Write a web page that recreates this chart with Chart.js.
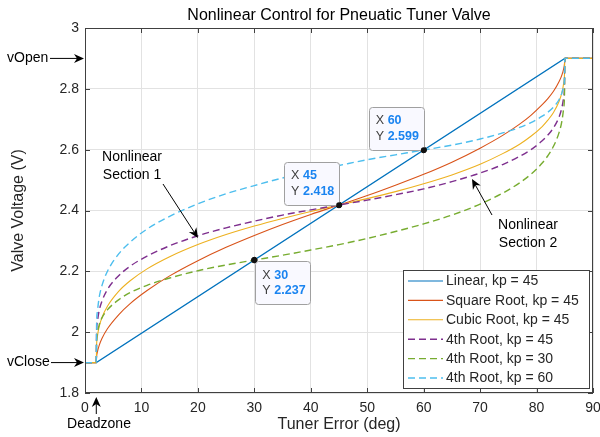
<!DOCTYPE html>
<html><head><meta charset="utf-8">
<script src="https://cdn.jsdelivr.net/npm/chart.js@4.4.1/dist/chart.umd.min.js"></script>
<style>html,body{margin:0;padding:0;background:#fff}canvas{display:block}</style>
</head><body>
<canvas id="c" width="600" height="437"></canvas>
<script>
// ---- data ----
const errorDeg = [0, 2, 2.05, 2.2, 2.5, 3, 4, 6, 8, 11, 15, 20, 25, 30, 35, 40, 45, 50, 55, 60, 65, 70, 74, 77, 79, 81, 82, 83, 84, 84.5, 84.8, 84.95, 85, 90];
const linearX = [0, 2, 85, 90];
const linearV = [1.9, 1.9, 2.9, 2.9];
const sqrtV45 = [1.9, 1.9, 1.918, 1.935, 1.956, 1.979, 2.012, 2.058, 2.094, 2.137, 2.185, 2.235, 2.279, 2.318, 2.354, 2.387, 2.418, 2.449, 2.483, 2.519, 2.559, 2.605, 2.647, 2.684, 2.713, 2.748, 2.768, 2.792, 2.824, 2.846, 2.866, 2.883, 2.9, 2.9];
const cubeV45 = [1.9, 1.9, 1.954, 1.986, 2.017, 2.048, 2.086, 2.135, 2.169, 2.208, 2.248, 2.288, 2.321, 2.349, 2.374, 2.397, 2.418, 2.439, 2.462, 2.488, 2.517, 2.552, 2.587, 2.618, 2.644, 2.676, 2.697, 2.722, 2.759, 2.788, 2.818, 2.848, 2.9, 2.9];
const fourthV45 = [1.9, 1.9, 1.996, 2.035, 2.070, 2.102, 2.141, 2.186, 2.217, 2.250, 2.284, 2.317, 2.343, 2.365, 2.385, 2.402, 2.418, 2.434, 2.452, 2.471, 2.495, 2.523, 2.551, 2.578, 2.600, 2.629, 2.648, 2.672, 2.708, 2.739, 2.772, 2.809, 2.9, 2.9];
const fourthV30 = [1.9, 1.9, 1.969, 1.998, 2.023, 2.047, 2.074, 2.107, 2.130, 2.154, 2.178, 2.202, 2.221, 2.237, 2.253, 2.270, 2.288, 2.308, 2.331, 2.356, 2.385, 2.421, 2.457, 2.491, 2.519, 2.556, 2.580, 2.611, 2.657, 2.695, 2.737, 2.785, 2.9, 2.9];
const fourthV60 = [1.9, 1.9, 2.020, 2.069, 2.113, 2.153, 2.201, 2.258, 2.296, 2.339, 2.381, 2.422, 2.455, 2.482, 2.507, 2.529, 2.548, 2.567, 2.583, 2.599, 2.615, 2.635, 2.655, 2.673, 2.689, 2.710, 2.723, 2.740, 2.765, 2.787, 2.810, 2.836, 2.9, 2.9];
const seriesLabels = ['Linear, kp = 45', 'Square Root, kp = 45', 'Cubic Root, kp = 45', '4th Root, kp = 45', '4th Root, kp = 30', '4th Root, kp = 60'];
const tipX = [30, 45, 60];
const tipY = [2.237, 2.418, 2.599];
const xTicks = [0, 10, 20, 30, 40, 50, 60, 70, 80, 90];
const yTicks = [1.8, 2, 2.2, 2.4, 2.6, 2.8, 3];
const titleText = 'Nonlinear Control for Pneuatic Tuner Valve';
const xTitle = 'Tuner Error (deg)';
const yTitle = 'Valve Voltage (V)';

// ---- styles ----
const FONT = "'Liberation Sans', Arial, Helvetica, sans-serif";
const colors = ['#0072BD', '#D95319', '#EDB120', '#7E2F8E', '#77AC30', '#4DBEEE'];
const dashes = [[], [], [], [7, 4], [7, 4], [7, 4]];
const widths = [1.1, 1.1, 1.1, 1.4, 1.4, 1.4];
const TXT = '#262626';
const AXC = '#404040';

const datasets = [];
datasets.push({ data: linearX.map((x, i) => ({ x, y: linearV[i] })) });
[sqrtV45, cubeV45, fourthV45, fourthV30, fourthV60].forEach(vals => {
  datasets.push({ data: errorDeg.map((x, i) => ({ x, y: vals[i] })) });
});
datasets.forEach((d, i) => Object.assign(d, {
  label: seriesLabels[i], borderColor: colors[i], borderWidth: widths[i], borderDash: dashes[i],
  pointRadius: 0, fill: false, order: 10 - i,
  cubicInterpolationMode: i === 0 ? 'default' : 'monotone', tension: 0
}));
datasets.push({
  label: 'tips', data: tipX.map((x, i) => ({ x, y: tipY[i] })), showLine: false,
  pointRadius: 2.8, pointBackgroundColor: '#111', pointBorderColor: '#111', order: 0
});

function arrow(ctx, x1, y1, x2, y2) {
  const a = Math.atan2(y2 - y1, x2 - x1), c = Math.cos(a), s = Math.sin(a);
  const L = 10, W = 4.5, N = 3;
  ctx.save();
  ctx.strokeStyle = '#000'; ctx.fillStyle = '#000'; ctx.lineWidth = 1;
  ctx.beginPath(); ctx.moveTo(x1, y1); ctx.lineTo(x2 - c * (L - N), y2 - s * (L - N)); ctx.stroke();
  ctx.beginPath();
  ctx.moveTo(x2, y2);
  ctx.lineTo(x2 - c * L - s * W, y2 - s * L + c * W);
  ctx.lineTo(x2 - c * (L - N), y2 - s * (L - N));
  ctx.lineTo(x2 - c * L + s * W, y2 - s * L - c * W);
  ctx.closePath(); ctx.fill();
  ctx.restore();
}

function roundRect(ctx, x, y, w, h, r) {
  ctx.beginPath();
  ctx.moveTo(x + r, y); ctx.lineTo(x + w - r, y); ctx.arcTo(x + w, y, x + w, y + r, r);
  ctx.lineTo(x + w, y + h - r); ctx.arcTo(x + w, y + h, x + w - r, y + h, r);
  ctx.lineTo(x + r, y + h); ctx.arcTo(x, y + h, x, y + h - r, r);
  ctx.lineTo(x, y + r); ctx.arcTo(x, y, x + r, y, r); ctx.closePath();
}

const decor = {
  id: 'decor',
  afterDatasetsDraw(chart) {
    const ctx = chart.ctx, ca = chart.chartArea, xs = chart.scales.x, ys = chart.scales.y;
    ctx.save();
    // axes box + inward ticks
    ctx.strokeStyle = AXC; ctx.lineWidth = 1;
    ctx.strokeRect(ca.left + 0.5, ca.top + 0.5, ca.right - ca.left - 1, ca.bottom - ca.top - 1);
    ctx.beginPath();
    xTicks.forEach(v => {
      const p = Math.round(xs.getPixelForValue(v)) + 0.5;
      ctx.moveTo(p, ca.bottom); ctx.lineTo(p, ca.bottom - 5);
      ctx.moveTo(p, ca.top); ctx.lineTo(p, ca.top + 5);
    });
    yTicks.forEach(v => {
      const p = Math.round(ys.getPixelForValue(v)) + 0.5;
      ctx.moveTo(ca.left, p); ctx.lineTo(ca.left + 5, p);
      ctx.moveTo(ca.right, p); ctx.lineTo(ca.right - 5, p);
    });
    ctx.stroke();

    // data tips
    tipX.forEach((xv, i) => {
      const px = xs.getPixelForValue(xv), py = ys.getPixelForValue(tipY[i]);
      const w = 55, h = 43;
      const bx = i === 0 ? px + 1 : px - w, by = i === 0 ? py + 1 : py - h;
      ctx.fillStyle = '#f9f9ff'; ctx.strokeStyle = '#a0a0a0'; ctx.lineWidth = 1;
      roundRect(ctx, Math.round(bx) + 0.5, Math.round(by) + 0.5, w, h, 3); ctx.fill(); ctx.stroke();
      ctx.textBaseline = 'middle'; ctx.textAlign = 'left';
      ctx.font = '12.5px ' + FONT; ctx.fillStyle = '#404040';
      ctx.fillText('X', bx + 7, by + 14); ctx.fillText('Y', bx + 7, by + 29.5);
      ctx.font = 'bold 12.5px ' + FONT; ctx.fillStyle = '#1a84f0';
      ctx.fillText(String(xv), bx + 19, by + 14); ctx.fillText(tipY[i].toFixed(3), bx + 19, by + 29.5);
    });
    // redraw tip points above boxes
    tipX.forEach((xv, i) => {
      ctx.fillStyle = '#111'; ctx.beginPath();
      ctx.arc(xs.getPixelForValue(xv), ys.getPixelForValue(tipY[i]), 2.8, 0, Math.PI * 2); ctx.fill();
    });

    // legend
    const lw = 186, lh = 118, lx = ca.right - 4 - lw, ly = ca.bottom - 5 - lh;
    ctx.fillStyle = '#fff'; ctx.strokeStyle = AXC; ctx.lineWidth = 1;
    ctx.fillRect(Math.round(lx) + 0.5, Math.round(ly) + 0.5, lw, lh);
    ctx.strokeRect(Math.round(lx) + 0.5, Math.round(ly) + 0.5, lw, lh);
    ctx.font = '14px ' + FONT; ctx.textBaseline = 'middle'; ctx.textAlign = 'left';
    seriesLabels.forEach((lab, i) => {
      const yy = ly + 11 + i * 19.4;
      ctx.strokeStyle = colors[i]; ctx.lineWidth = widths[i]; ctx.setLineDash(dashes[i]);
      ctx.beginPath(); ctx.moveTo(lx + 5, yy); ctx.lineTo(lx + 40, yy); ctx.stroke();
      ctx.setLineDash([]);
      ctx.fillStyle = TXT; ctx.fillText(lab, lx + 43, yy + 0.5);
    });

    // titles
    ctx.fillStyle = '#000'; ctx.textAlign = 'center'; ctx.textBaseline = 'middle';
    ctx.font = '16px ' + FONT;
    ctx.fillText(titleText, (ca.left + ca.right) / 2, 16);
    ctx.fillStyle = TXT;
    ctx.fillText(xTitle, (ca.left + ca.right) / 2, 425);
    ctx.save(); ctx.translate(19, (ca.top + ca.bottom) / 2); ctx.rotate(-Math.PI / 2);
    ctx.fillText(yTitle, 0, 0); ctx.restore();

    // annotations
    ctx.font = '14px ' + FONT; ctx.fillStyle = '#000';
    ctx.textAlign = 'left';
    const yOpen = ys.getPixelForValue(2.9), yClose = ys.getPixelForValue(1.9);
    ctx.fillText('vOpen', 7, yOpen);
    arrow(ctx, 50, yOpen, ca.left - 1, yOpen);
    ctx.fillText('vClose', 7, yClose);
    arrow(ctx, 51, yClose, ca.left - 1, yClose);
    const xd = xs.getPixelForValue(2);
    arrow(ctx, xd, 414, xd, ca.bottom + 4);
    ctx.textAlign = 'center';
    ctx.fillText('Deadzone', 99, 424);
    ctx.fillText('Nonlinear', 132, 157);
    ctx.fillText('Section 1', 132, 175);
    arrow(ctx, 163, 184, 198, 238);
    ctx.fillText('Nonlinear', 528, 225);
    ctx.fillText('Section 2', 528, 243);
    arrow(ctx, 492, 215, 472, 179);
    ctx.restore();
  }
};

new Chart(document.getElementById('c'), {
  type: 'line',
  data: { datasets },
  options: {
    responsive: false, animation: false, devicePixelRatio: 1,
    layout: { padding: { left: 0, top: 28, right: 7, bottom: 0 } },
    plugins: { legend: { display: false }, tooltip: { enabled: false }, title: { display: false } },
    scales: {
      x: {
        type: 'linear', min: 0, max: 90,
        afterBuildTicks: s => { s.ticks = xTicks.map(v => ({ value: v })); },
        ticks: { color: TXT, font: { family: FONT, size: 14 }, padding: 7, maxRotation: 0, autoSkip: false },
        grid: { color: '#e2e2e2', drawTicks: false, lineWidth: 1 },
        border: { display: false },
        afterFit: s => { s.height = 44; s.paddingLeft = 0; s.paddingRight = 0; }
      },
      y: {
        type: 'linear', min: 1.8, max: 3,
        afterBuildTicks: s => { s.ticks = yTicks.map(v => ({ value: v })); },
        ticks: { color: TXT, font: { family: FONT, size: 14 }, padding: 6, callback: v => String(+v.toFixed(1)) },
        grid: { color: '#e2e2e2', drawTicks: false, lineWidth: 1 },
        border: { display: false },
        afterFit: s => { s.width = 85; s.paddingTop = 0; s.paddingBottom = 0; }
      }
    }
  },
  plugins: [decor]
});
</script>
</body></html>
